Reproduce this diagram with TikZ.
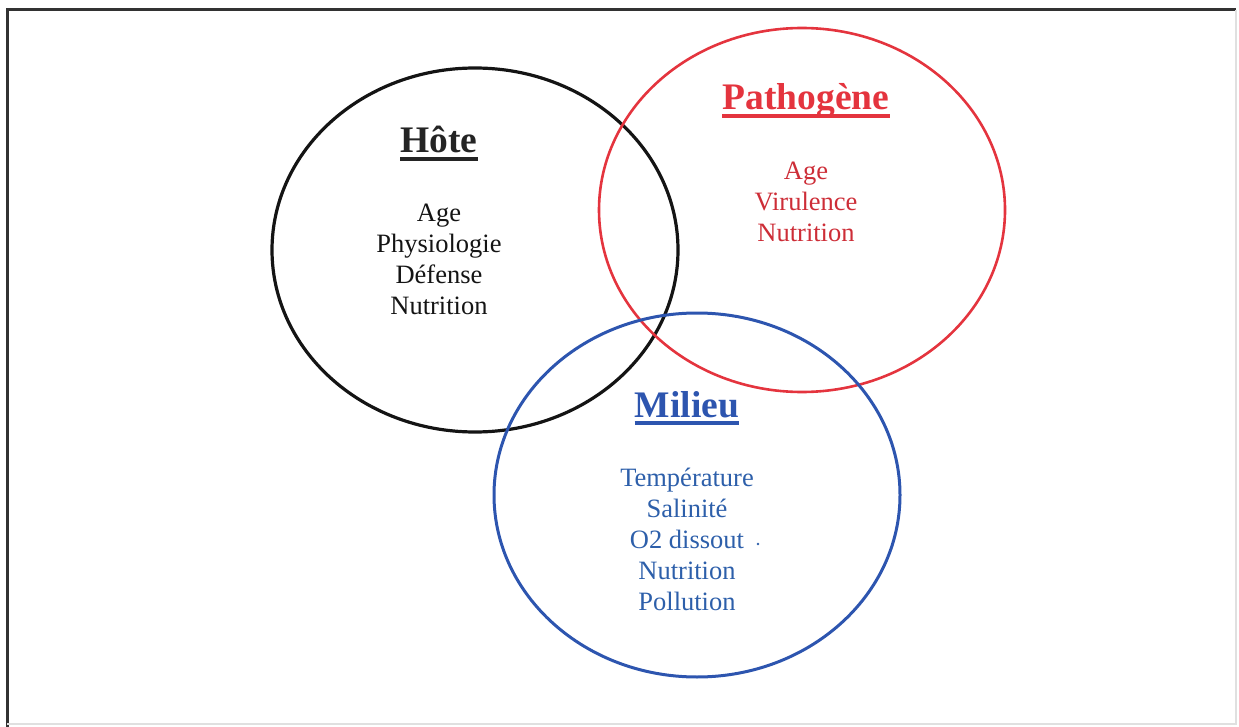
\documentclass[tikz,border=0pt]{standalone}
\usepackage{fontspec}
\setmainfont{Liberation Serif}
\usetikzlibrary{shapes.geometric}
\definecolor{hostc}{RGB}{20,20,20}
\definecolor{pathc}{RGB}{228,52,62}
\definecolor{pathtxt}{RGB}{205,45,55}
\definecolor{milc}{RGB}{45,85,175}
\definecolor{miltxt}{RGB}{45,95,170}
\definecolor{framec}{RGB}{50,50,50}
\tikzset{
  venn/.style={ellipse, minimum width=406pt, minimum height=364pt, inner sep=0pt},
  ttl/.style={font=\fontsize{37.5}{40}\selectfont\bfseries, inner sep=0pt, anchor=base},
  body/.style={font=\fontsize{26.5}{31}\selectfont, align=center, inner sep=0pt},
  uline/.style={line width=3.5pt}
}
\begin{document}
\begin{tikzpicture}[x=1pt,y=-1pt]
\useasboundingbox (0,0) rectangle (1239,727);
% frame
\coordinate (f1) at (7,727);
\coordinate (f2) at (7,10);
\coordinate (f3) at (1236,10);
\coordinate (f4) at (1236,724);
\coordinate (f5) at (7,724);
\draw[framec, line width=3pt] (f1) -- (f2) -- (f3);
\draw[black!12, line width=1.5pt] (f3) -- (f4) -- (f5);
% circles
\node[venn, draw=hostc, line width=3.2pt] (hote) at (475,250) {};
\node[venn, draw=pathc, line width=2.6pt] (path) at (802,210) {};
\node[venn, draw=milc, line width=3pt] (mil) at (697,495) {};
% titles
\node[ttl, text=hostc!85!gray] (th) at (439,153) {Hôte};
\draw[uline, hostc!85!gray] ([yshift=-6pt]th.base west) -- ([yshift=-6pt]th.base east);
\node[ttl, text=pathc] (tp) at (806,110) {Pathogène};
\draw[uline, pathc] ([yshift=-6pt]tp.base west) -- ([yshift=-6pt]tp.base east);
\node[ttl, text=milc] (tm) at (687,417) {Milieu};
\draw[uline, milc] ([yshift=-6pt]tm.base west) -- ([yshift=-6pt]tm.base east);
% bodies
\node[body, text=hostc] (bh) at (439,259) {Age\\Physiologie\\Défense\\Nutrition};
\node[body, text=pathtxt] (bp) at (806,202) {Age\\Virulence\\Nutrition};
\node[body, text=miltxt] (bm) at (687,539) {Température\\Salinité\\O2 dissout\\Nutrition\\Pollution};
\fill[miltxt] (758,544) circle (1.3pt);
\end{tikzpicture}
\end{document}
